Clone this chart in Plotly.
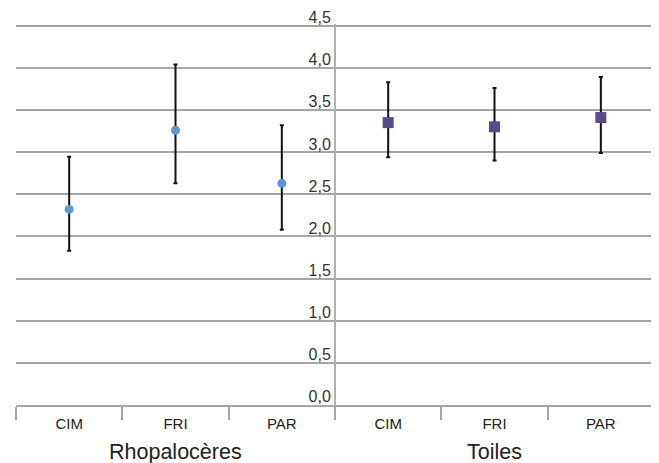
import plotly.graph_objects as go

groups = ["Rhopalocères", "Toiles"]
sites = ["CIM", "FRI", "PAR"]

rhopa_mean = [2.32, 3.26, 2.63]
rhopa_high = [2.945, 4.04, 3.32]
rhopa_low = [1.83, 2.63, 2.08]

toiles_mean = [3.35, 3.30, 3.41]
toiles_high = [3.83, 3.76, 3.89]
toiles_low = [2.94, 2.90, 2.99]

y_ticks = [0.0, 0.5, 1.0, 1.5, 2.0, 2.5, 3.0, 3.5, 4.0, 4.5]

x_r = [0, 1, 2]
x_t = [3, 4, 5]

fig = go.Figure()

fig.add_trace(go.Scatter(
    x=x_r, y=rhopa_mean, mode="markers",
    marker=dict(symbol="circle", size=9, color="#5f95d9"),
    error_y=dict(type="data", symmetric=False,
                 array=[h - m for h, m in zip(rhopa_high, rhopa_mean)],
                 arrayminus=[m - l for m, l in zip(rhopa_mean, rhopa_low)],
                 color="#111111", thickness=2, width=2),
    showlegend=False,
))
fig.add_trace(go.Scatter(
    x=x_t, y=toiles_mean, mode="markers",
    marker=dict(symbol="square", size=11, color="#5a4a8b"),
    error_y=dict(type="data", symmetric=False,
                 array=[h - m for h, m in zip(toiles_high, toiles_mean)],
                 arrayminus=[m - l for m, l in zip(toiles_mean, toiles_low)],
                 color="#111111", thickness=2, width=2),
    showlegend=False,
))

for gi, g in enumerate(groups):
    fig.add_annotation(x=gi * 3 + 1, y=0, xref="x", yref="paper",
                       yanchor="middle", yshift=-47, text=g, showarrow=False,
                       font=dict(size=21.5, color="#222222"))

# page body has an 8px margin: figure is sized/offset to compensate
fig.update_layout(
    width=651, height=455,
    margin=dict(l=8, r=5, t=16, b=58),
    paper_bgcolor="white", plot_bgcolor="white",
    separators=", ",
    font=dict(family="Liberation Sans, Arial, sans-serif", color="#333333"),
    xaxis=dict(
        range=[-0.5, 5.5], automargin=False,
        tickvals=x_r + x_t, ticktext=sites + sites,
        ticks="", showgrid=False, zeroline=False, ticklabelstandoff=4,
        showline=True, linecolor="#a6a6a6", linewidth=1.5,
        tickfont=dict(size=15, color="#222222"),
        minor=dict(tickmode="linear", tick0=-0.5, dtick=1, ticks="outside",
                   ticklen=13, tickwidth=1.5, tickcolor="#a6a6a6", showgrid=False),
    ),
    yaxis=dict(
        range=[0, 4.52], tickvals=y_ticks, tickformat=".1f",
        anchor="free", position=0.5, automargin=False,
        ticklabelposition="outside top", ticklabeloverflow="allow",
        ticklabelshift=3,
        showgrid=True, gridcolor="#a6a6a6", gridwidth=1.5,
        showline=True, linecolor="#b0b0b0", linewidth=2,
        zeroline=False, ticks="",
        tickfont=dict(size=16, color="#333333"),
    ),
)

fig.write_html("out.html")
